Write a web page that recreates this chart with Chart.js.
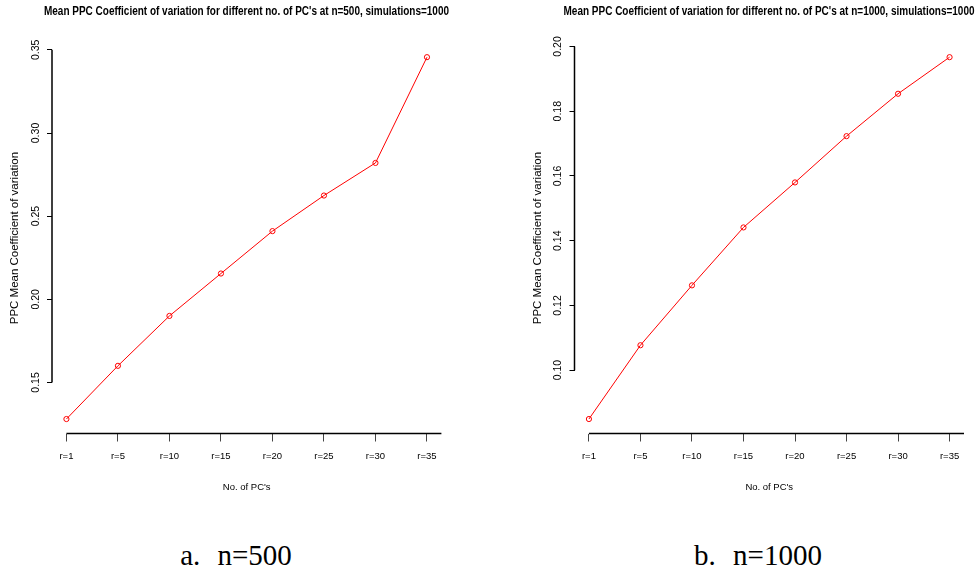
<!DOCTYPE html>
<html>
<head>
<meta charset="utf-8">
<script src="https://cdn.jsdelivr.net/npm/chart.js@4.4.0/dist/chart.umd.min.js"></script>
<style>
  body { margin: 0; background: #fff; width: 979px; height: 571px; position: relative; overflow: hidden; }
  canvas { position: absolute; top: 0; }
  #chartA { left: 0; }
  #chartB { left: 490px; }
  .caption { position: absolute; top: 541px; font-family: 'Liberation Serif', serif; font-size: 29px; line-height: 29px;
             word-spacing: 10px; transform: translateX(-50%); white-space: nowrap; color: #000; }
</style>
</head>
<body>
<canvas id="chartA" width="493" height="500"></canvas>
<canvas id="chartB" width="558" height="500"></canvas>
<div class="caption" style="left:236px">a. n=500</div>
<div class="caption" style="left:758px">b. n=1000</div>
<script>
// values
const xLabels = ['r=1', 'r=5', 'r=10', 'r=15', 'r=20', 'r=25', 'r=30', 'r=35'];
const cvN500 = [0.128, 0.160, 0.190, 0.2155, 0.241, 0.2624, 0.282, 0.3456];
const cvN1000 = [0.0849, 0.1077, 0.1262, 0.1441, 0.1580, 0.1723, 0.1854, 0.1967];
const yTicksN500 = [0.15, 0.20, 0.25, 0.30, 0.35];
const yTicksN1000 = [0.10, 0.12, 0.14, 0.16, 0.18, 0.20];

const SANS = "'Liberation Sans', Arial, sans-serif";
Chart.defaults.color = '#000';

// R-style axis lines: y from first to last tick, x from first tick to plot edge
const rAxes = {
  id: 'rAxes',
  afterDraw(chart) {
    const { ctx, chartArea, scales: { x, y } } = chart;
    const yt = y.ticks;
    ctx.save();
    ctx.strokeStyle = '#000';
    ctx.lineWidth = 1.5;
    ctx.beginPath();
    ctx.moveTo(chartArea.left, y.getPixelForValue(yt[0].value));
    ctx.lineTo(chartArea.left, y.getPixelForValue(yt[yt.length - 1].value));
    ctx.moveTo(x.getPixelForValue(x.ticks[0].value), chartArea.bottom);
    ctx.lineTo(chartArea.right, chartArea.bottom);
    ctx.stroke();
    ctx.restore();
  }
};

// side = layout padding on both sides; the title box is squeezed to (canvas - 2*side),
// which gives the narrow bold look of the R title.
// y tick labels use mirror + negative padding so they are not clipped to the thin axis box.
function makeChart(id, title, values, yTicks, opts) {
  const lo = Math.min(...values), hi = Math.max(...values);
  const ext = (hi - lo) * 0.04;
  const xExt = (xLabels.length - 1) * 0.04;

  return new Chart(document.getElementById(id), {
    type: 'line',
    data: {
      datasets: [{
        data: values.map((v, i) => ({ x: i, y: v })),
        borderColor: '#ff0000',
        borderWidth: 1,
        pointRadius: 2.6,
        pointBorderWidth: 1,
        pointBorderColor: '#ff0000',
        pointBackgroundColor: 'rgba(0,0,0,0)',
        tension: 0
      }]
    },
    options: {
      responsive: false,
      animation: false,
      layout: { padding: { left: opts.side, right: opts.side, top: 0, bottom: 0 } },
      plugins: {
        legend: { display: false },
        tooltip: { enabled: false },
        title: {
          display: true,
          text: title,
          font: { family: SANS, size: 12.5, weight: 'bold' },
          padding: { top: 4.5, bottom: 23.2 }
        }
      },
      scales: {
        x: {
          type: 'linear',
          min: -xExt,
          max: xLabels.length - 1 + xExt,
          afterBuildTicks: (scale) => { scale.ticks = xLabels.map((l, i) => ({ value: i })); },
          afterFit: (scale) => { scale.height = 66.5; },
          border: { display: false },
          grid: { drawOnChartArea: false, drawTicks: true, tickLength: 8, color: '#444', lineWidth: 1 },
          ticks: {
            autoSkip: false, maxRotation: 0, padding: 9,
            font: { family: SANS, size: 9.5 },
            callback: (v) => xLabels[v]
          },
          title: {
            display: true,
            text: "No. of PC's",
            font: { family: SANS, size: 9.5 },
            padding: { top: 0, bottom: 7.3 }
          }
        },
        y: {
          type: 'linear',
          min: lo - ext,
          max: hi + ext,
          afterBuildTicks: (scale) => { scale.ticks = yTicks.map((v) => ({ value: v })); },
          afterFit: (scale) => { scale.width = opts.yWidth; },
          border: { display: false },
          grid: { drawOnChartArea: false, drawTicks: true, tickLength: 5, color: '#000', lineWidth: 1 },
          ticks: {
            autoSkip: false, minRotation: 90, maxRotation: 90, crossAlign: 'center',
            mirror: true, padding: -26.4,
            font: { family: SANS, size: 10.5 },
            callback: (v) => v.toFixed(2)
          },
          title: {
            display: true,
            text: 'PPC Mean Coefficient of variation',
            font: { family: SANS, size: 11.5 },
            padding: { top: opts.yTitlePad, bottom: 0 }
          }
        },
        yR: {
          type: 'linear',
          position: 'right',
          afterFit: (scale) => { scale.width = opts.rWidth; },
          border: { display: false },
          grid: { display: false },
          ticks: { display: false }
        }
      }
    },
    plugins: [rAxes]
  });
}

makeChart('chartA', "Mean PPC Coefficient of variation for different no. of PC's at n=500, simulations=1000",
  cvN500, yTicksN500, { side: 44, yWidth: 8, rWidth: 7.6, yTitlePad: -35.9 });
makeChart('chartB', "Mean PPC Coefficient of variation for different no. of PC's at n=1000, simulations=1000",
  cvN1000, yTicksN1000, { side: 73.5, yWidth: 11, rWidth: 10.5, yTitlePad: -32.4 });
</script>
</body>
</html>
